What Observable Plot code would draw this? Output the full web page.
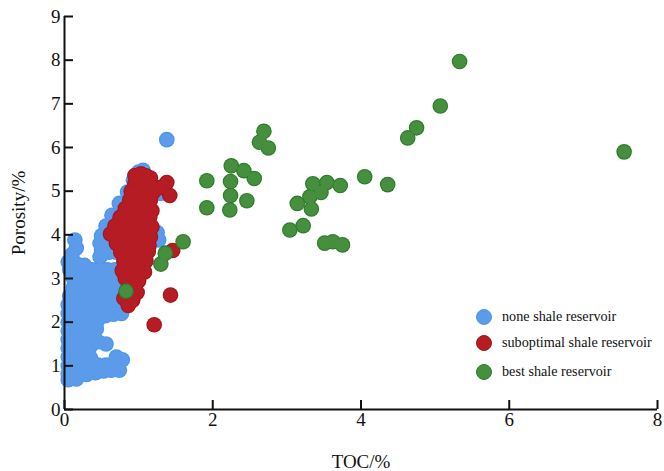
<!DOCTYPE html>
<html><head><meta charset="utf-8">
<script src="https://cdn.jsdelivr.net/npm/d3@7"></script>
<script src="https://cdn.jsdelivr.net/npm/@observablehq/plot@0.6"></script>
<style>
body{margin:0;background:#fff;}
#wrap{position:relative;width:664px;height:471px;overflow:hidden;}
.lg{position:absolute;font-family:"Liberation Serif",serif;font-size:14.2px;color:#111;line-height:16px;white-space:nowrap;}
.sw{position:absolute;width:16px;height:16px;border-radius:50%;box-sizing:border-box;}
</style></head>
<body><div id="wrap"></div>
<script>
// ---- data ----
const xTicks = [0, 2, 4, 6, 8];
const yTicks = [0, 1, 2, 3, 4, 5, 6, 7, 8, 9];
const seriesNames = ["none shale reservoir", "suboptimal shale reservoir", "best shale reservoir"];
const seriesColors = ["#5b9bea", "#b51c23", "#468f3f"];
const seriesStrokes = ["#4a95f0", "#a3161c", "#2f7a2b"];

const noneTOC = [0.05,0.16, 0.05,0.18,0.30,0.42, 0.53,0.63,0.74,
  0.05,0.15,0.25,0.35,0.45,0.56,0.66, 0.78,0.70,
  0.05,0.15,0.25,0.35, 0.05,0.15,0.25,0.35, 0.45,0.56,
  0.05,0.15,0.25,0.35, 0.05,0.15,0.25,0.35,0.43,
  0.05,0.15,0.25,0.35,0.44, 0.55,0.66,0.77,
  0.05,0.15,0.25,0.35,0.45,
  0.05,0.15,0.25,0.35,0.45,0.55,0.65,0.75,
  0.07,0.18,0.28,0.38,0.48,0.58,0.68,
  0.12,0.22,0.32,0.42,0.52,0.62,0.72,
  0.12,0.22,0.32,0.42,0.52,0.62,0.72,
  0.07,0.18,0.28,0.38,0.48,0.58,0.68,
  0.05,0.15,0.27, 0.10,0.16,0.14,
  0.48,0.50,0.60,0.70, 0.48,0.58,0.68,
  0.50,0.56,0.66,0.64,0.75,0.74,0.85,0.85,0.95,0.93,1.00,1.06,
  1.25,1.27,1.30, 1.38];
const nonePor = [0.68,0.70, 0.82,0.80,0.80,0.84, 0.88,0.90,0.90,
  1.00,1.00,1.00,1.00,1.02,1.02,1.05, 1.14,1.20,
  1.20,1.20,1.20,1.18, 1.40,1.40,1.40,1.45, 1.55,1.50,
  1.60,1.60,1.60,1.62, 1.80,1.80,1.80,1.80,1.85,
  2.00,2.00,2.00,2.00,2.02, 2.15,2.18,2.20,
  2.20,2.20,2.20,2.20,2.22,
  2.40,2.40,2.40,2.40,2.40,2.40,2.40,2.40,
  2.60,2.60,2.60,2.60,2.60,2.60,2.60,
  2.80,2.80,2.80,2.80,2.80,2.80,2.80,
  3.00,3.00,3.00,3.00,3.00,3.00,3.00,
  3.20,3.20,3.20,3.20,3.20,3.20,3.20,
  3.38,3.35,3.30, 3.55,3.70,3.88,
  3.50,3.65,3.60,3.60, 3.80,3.80,3.80,
  3.98,4.20,4.20,4.45,4.45,4.72,4.72,4.98,5.00,5.25,5.44,5.48,
  4.05,3.88,4.95, 6.18];

const subTOC = [0.95,1.03,1.10,1.16, 0.95,1.05,1.15,1.38,
  0.90,1.00,1.10,1.20,1.28,1.42, 0.88,0.98,1.08,1.16,
  0.82,0.92,1.02,1.12,1.18, 0.75,0.85,0.95,1.05,1.15,
  0.68,0.78,0.88,0.98,1.08,1.18, 0.62,0.72,0.82,0.92,1.02,1.12,1.16,
  0.70,0.80,0.90,1.00,1.10,1.14, 0.76,0.86,0.96,1.06,1.13,1.46,
  0.80,0.90,1.00,1.10, 0.78,0.88,0.98,1.08, 0.82,0.92,1.00,
  0.86,0.95,0.98, 0.80,0.90,0.92, 0.86, 1.43,1.21];
const subPor = [5.36,5.40,5.35,5.30, 5.18,5.20,5.20,5.20,
  5.00,5.00,5.00,4.98,5.08,4.90, 4.80,4.80,4.80,4.80,
  4.60,4.60,4.60,4.60,4.55, 4.40,4.40,4.40,4.40,4.40,
  4.20,4.20,4.20,4.20,4.20,4.18, 4.02,4.00,4.00,4.00,4.00,4.00,3.95,
  3.80,3.80,3.80,3.80,3.80,3.75, 3.60,3.60,3.60,3.60,3.62,3.64,
  3.40,3.40,3.40,3.40, 3.18,3.20,3.20,3.15, 3.00,3.00,2.95,
  2.80,2.78,2.68, 2.55,2.60,2.50, 2.38, 2.62,1.94];

const bestTOC = [0.83,1.30,1.36,1.60,
  1.92,1.92,2.25,2.24,2.24,2.23,2.42,2.46,2.56,2.63,2.69,2.75,
  3.04,3.22,3.14,3.31,3.33,3.35,3.46,3.54,3.72,3.51,3.62,3.75,
  4.05,4.36,4.63,4.75,5.07,5.33,7.55];
const bestPor = [2.71,3.33,3.58,3.84,
  5.24,4.62,5.58,5.22,4.90,4.57,5.47,4.78,5.29,6.12,6.37,5.99,
  4.11,4.21,4.72,4.87,4.59,5.17,4.97,5.20,5.13,3.81,3.84,3.77,
  5.33,5.15,6.22,6.45,6.95,7.97,5.90];

// ---- build ----
const groups = [[noneTOC, nonePor], [subTOC, subPor], [bestTOC, bestPor]];
const font = '"Liberation Serif", "Times New Roman", serif';

// each series: an outline layer underneath, then the fill layer (so overlapping dots fuse)
const dotMarks = groups.flatMap(([xs, ys], i) => {
  const rows = xs.map((x, j) => ({toc: x, por: ys[j]}));
  return [
    Plot.dot(rows, {x: "toc", y: "por", r: 7.8, fill: seriesStrokes[i]}),
    Plot.dot(rows, {x: "toc", y: "por", r: 6.7, fill: seriesColors[i]})
  ];
});

const chart = Plot.plot({
  width: 664, height: 471,
  marginLeft: 64, marginRight: 7, marginTop: 16, marginBottom: 62,
  style: {fontFamily: font, fontSize: "18px", color: "#111", background: "#fff", overflow: "visible"},
  x: {domain: [0, 8]},
  y: {domain: [0, 9]},
  marks: [
    ...dotMarks,
    Plot.ruleX([0], {strokeWidth: 2, stroke: "#111"}),
    Plot.ruleY([0], {strokeWidth: 2, stroke: "#111"}),
    Plot.axisX({ticks: xTicks, tickSize: -9, tickPadding: 12, strokeWidth: 2, label: "TOC/%", labelAnchor: "center", labelArrow: "none", labelOffset: 58, fontSize: 19}),
    Plot.axisY({ticks: yTicks, tickSize: -9, tickPadding: 13, strokeWidth: 2, label: "Porosity/%", labelAnchor: "center", labelArrow: "none", labelOffset: 53, fontSize: 19})
  ]
});
const wrap = document.getElementById("wrap");
wrap.appendChild(chart);

// legend (HTML, inside plot area)
const legendTops = [317, 343, 372];
seriesNames.forEach((name, i) => {
  const sw = document.createElement("div");
  sw.className = "sw";
  sw.style.left = "476px"; sw.style.top = (legendTops[i] - 8) + "px";
  sw.style.background = seriesColors[i];
  sw.style.border = "1px solid " + seriesStrokes[i];
  wrap.appendChild(sw);
  const t = document.createElement("div");
  t.className = "lg";
  t.style.left = "502px"; t.style.top = (legendTops[i] - 9) + "px";
  t.textContent = name;
  wrap.appendChild(t);
});
</script></body></html>
